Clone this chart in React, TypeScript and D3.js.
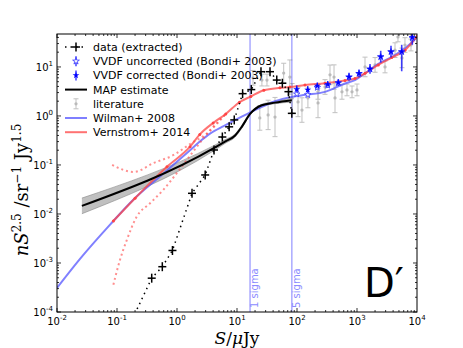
import React, { useEffect, useRef } from 'react'
import * as d3 from 'd3'

// data (extracted): flux S (uJy) and nS^2.5
const dataS = [0.165, 0.379, 0.569, 0.84, 1.78, 2.95, 4.14, 5.7, 7.4, 9.0, 12.4, 17.3, 25.1, 35.5, 46, 57, 72, 82]
const dataV = [5.7e-5, 4.9e-4, 8.4e-4, 1.8e-3, 0.0264, 0.0625, 0.202, 0.372, 0.6, 0.83, 2.85, 3.45, 8.0, 8.0, 5.4, 4.65, 3.13, 1.13]

// MAP estimate with its band
const mapS = [0.026, 4.1, 6.3, 9.3, 12, 16.5, 25.8, 43, 82]
const mapV = [0.0146, 0.22, 0.3, 0.4, 0.6, 1.1, 1.65, 1.87, 2.1]
const mapLo = [0.0101, 0.195, 0.275, 0.37, 0.56, 1.04, 1.58, 1.78, 1.92]
const mapHi = [0.0211, 0.248, 0.327, 0.43, 0.64, 1.16, 1.73, 1.97, 2.32]

// Wilman+ 2008
const wilS = [0.01, 0.024, 0.076, 0.185, 0.52, 1.65, 2.4, 3.6, 6.1, 12, 22, 43, 82, 136, 293, 631, 926, 1360, 2265, 3790, 6300, 10000]
const wilV = [3.1e-4, 1.2e-3, 0.006, 0.0193, 0.058, 0.2, 0.3, 0.44, 0.63, 0.97, 1.4, 2.0, 2.45, 2.7, 3.1, 4.6, 5.4, 7.4, 11.5, 16, 24, 40]

// Vernstrom+ 2014 and its two dotted bounds
const verS = [0.087, 0.2, 0.68, 1.65, 2.4, 4.0, 6.5, 11, 17, 28, 52, 76, 136, 293, 631, 926, 1360, 2265, 3790, 6300, 10000]
const verV = [0.0072, 0.021, 0.092, 0.236, 0.42, 0.72, 1.1, 1.9, 2.5, 3.35, 3.75, 3.9, 4.3, 4.65, 5.3, 5.8, 7.4, 11, 15.5, 22, 42]
const verUpS = [0.083, 0.19, 0.41, 0.88, 1.67, 3.16, 6.5]
const verUpV = [0.1, 0.072, 0.11, 0.16, 0.27, 0.44, 1.1]
const verLoS = [0.087, 0.112, 0.145, 0.213, 0.355, 0.59, 0.99, 1.45, 2.15, 3.5, 6.5]
const verLoV = [3.6e-4, 1.15e-3, 2.9e-3, 8.8e-3, 0.0165, 0.031, 0.068, 0.126, 0.236, 0.5, 1.1]

// VVDF (Bondi+ 2003)
const vvdfS = [99, 151, 218, 325, 488, 736, 1080, 1648, 2483, 3686, 5560, 8350]
const vvdfCor = [3.5, 3.4, 4.1, 4.4, 4.8, 6.3, 7.4, 9.1, 16.2, 20.5, 20.5, 40]
const vvdfUnc = [2.8, 2.7, 3.8, 4.2, 4.7, 6.2, 7.3, 9.0, 16, 20.3, 20.3, 39]
const vvdfErrLo = [0.08, 0.08, 0.07, 0.07, 0.07, 0.08, 0.08, 0.1, 0.12, 0.12, 0.4, 0.15]
const vvdfErrHi = [0.08, 0.08, 0.07, 0.07, 0.07, 0.08, 0.08, 0.1, 0.12, 0.12, 0.14, 0.15]

// literature compilation (dex errors)
const litS = [18.5, 26, 31.6, 43, 33, 24, 76, 83, 104, 121, 152, 224, 224, 293, 414, 430, 562, 681, 826, 1000, 1360, 2000, 2930, 4300, 5620, 6300, 7940, 4820, 355, 60]
const litV = [6.0, 5.4, 5.4, 0.95, 1.05, 0.91, 6.2, 2.3, 1.93, 1.32, 2.33, 3.1, 1.84, 3.9, 6.2, 2.33, 3.1, 3.4, 3.1, 3.4, 10, 11, 10, 22, 15.3, 28, 28, 41, 6.9, 7.5]
const litErr = [0.15, 0.12, 0.12, 0.4, 0.3, 0.25, 0.35, 0.3, 0.3, 0.25, 0.2, 0.15, 0.3, 0.15, 0.25, 0.3, 0.15, 0.12, 0.12, 0.12, 0.2, 0.15, 0.12, 0.15, 0.2, 0.15, 0.12, 0.1, 0.2, 0.2]

const sigmaS = [16.5, 82]
const sigmaLabels = ['1 sigma', '5 sigma']
const xTicks = [-2, -1, 0, 1, 2, 3, 4]
const yTicks = [-4, -3, -2, -1, 0, 1]

const legendLabels = ['data (extracted)', 'VVDF uncorrected (Bondi+ 2003)', 'VVDF corrected (Bondi+ 2003)', 'MAP estimate', 'literature', 'Wilman+ 2008', 'Vernstrom+ 2014']

const BLUE = '#5555ff'
const RED = '#ff4444'

export default function App() {
  const ref = useRef<SVGSVGElement>(null)

  useEffect(() => {
    document.body.style.margin = '0'
    const svg = d3.select(ref.current)
    svg.selectAll('*').remove()
    const left = 57, right = 417, top = 34, bottom = 312
    const x = d3.scaleLog().domain([1e-2, 1e4]).range([left, right])
    const y = d3.scaleLog().domain([1e-4, 47]).range([bottom, top])

    svg.append('defs').append('clipPath').attr('id', 'clip')
      .append('rect').attr('x', left).attr('y', top).attr('width', right - left).attr('height', bottom - top)

    const g = svg.append('g').attr('clip-path', 'url(#clip)')
    const pts = (s: number[], v: number[]) => s.map((d, i) => [d, v[i]] as [number, number])
    const line = d3.line<[number, number]>().x(d => x(d[0])).y(d => y(d[1])).curve(d3.curveMonotoneX)

    // sigma lines
    sigmaS.forEach((s, i) => {
      g.append('line').attr('x1', x(s)).attr('x2', x(s)).attr('y1', top).attr('y2', bottom)
        .style('stroke', '#aaaaff').style('stroke-width', 1.5)
      svg.append('text').attr('transform', `translate(${x(s) + 8},${bottom - 4})rotate(-90)`)
        .style('font-family', 'DejaVu Sans').style('font-size', '10px').style('fill', '#8c8cff')
        .text(sigmaLabels[i])
    })

    // literature
    const lit = g.append('g').style('opacity', 0.4)
    litS.forEach((s, i) => {
      const v = litV[i], e = litErr[i]
      const cx = x(s), y1 = y(v * Math.pow(10, e)), y2 = y(v / Math.pow(10, e))
      lit.append('line').attr('x1', cx).attr('x2', cx).attr('y1', y1).attr('y2', y2).style('stroke', '#666').style('stroke-width', 1)
      ;[y1, y2].forEach(yy => lit.append('line').attr('x1', cx - 2.5).attr('x2', cx + 2.5).attr('y1', yy).attr('y2', yy).style('stroke', '#666'))
      lit.append('circle').attr('cx', cx).attr('cy', y(v)).attr('r', 1.6).style('fill', '#555')
    })

    // MAP band
    const area = d3.area<number>().x((d, i) => x(mapS[i])).y0((d, i) => y(mapLo[i])).y1((d, i) => y(mapHi[i])).curve(d3.curveMonotoneX)
    g.append('path').datum(mapS).attr('d', area).style('fill', '#b0b0b0').style('opacity', 0.8)
    g.append('path').datum(pts(mapS, mapLo)).attr('d', line).style('fill', 'none').style('stroke', '#888').style('stroke-width', 0.6)
    g.append('path').datum(pts(mapS, mapHi)).attr('d', line).style('fill', 'none').style('stroke', '#888').style('stroke-width', 0.6)

    // model curves
    g.append('path').datum(pts(wilS, wilV)).attr('d', line)
      .style('fill', 'none').style('stroke', BLUE).style('stroke-width', 2).style('opacity', 0.75)
    g.append('path').datum(pts(verS, verV)).attr('d', line)
      .style('fill', 'none').style('stroke', RED).style('stroke-width', 2).style('opacity', 0.75)
    g.append('g').selectAll('circle').data(pts(verS, verV)).enter().append('circle')
      .attr('cx', d => x(d[0])).attr('cy', d => y(d[1])).attr('r', 1.5).style('fill', RED)
    ;[pts(verUpS, verUpV), pts(verLoS, verLoV)].forEach(d => {
      g.append('path').datum(d).attr('d', line).style('fill', 'none').style('stroke', RED)
        .style('stroke-width', 2).style('stroke-dasharray', '2,3').style('opacity', 0.6)
    })

    g.append('path').datum(pts(mapS, mapV)).attr('d', line)
      .style('fill', 'none').style('stroke', 'black').style('stroke-width', 2)

    // data extracted
    g.append('path').datum(pts(dataS, dataV)).attr('d', d3.line<[number, number]>().x(d => x(d[0])).y(d => y(d[1])))
      .style('fill', 'none').style('stroke', 'black').style('stroke-width', 1.5).style('stroke-dasharray', '1.5,4')
    const plus = (sel: any, cx: number, cy: number) => {
      sel.append('line').attr('x1', cx - 4).attr('x2', cx + 4).attr('y1', cy).attr('y2', cy).style('stroke', 'black').style('stroke-width', 1.5)
      sel.append('line').attr('x1', cx).attr('x2', cx).attr('y1', cy - 4.5).attr('y2', cy + 4.5).style('stroke', 'black').style('stroke-width', 1.5)
    }
    dataS.forEach((s, i) => { if (i > 0) plus(g, x(s), y(dataV[i])) })

    // VVDF stars
    const star = d3.symbol().type(d3.symbolStar)
    vvdfS.forEach((s, i) => {
      const cx = x(s)
      g.append('line').attr('x1', cx).attr('x2', cx)
        .attr('y1', y(vvdfCor[i] * Math.pow(10, vvdfErrHi[i]))).attr('y2', y(vvdfCor[i] / Math.pow(10, vvdfErrLo[i])))
        .style('stroke', '#1111ff').style('stroke-width', 1.6).style('opacity', 0.8)
      g.append('path').attr('d', star.size(13)()).attr('transform', `translate(${cx},${y(vvdfUnc[i])})`)
        .style('fill', 'white').style('stroke', '#3333ff').style('stroke-width', 0.8)
      g.append('path').attr('d', star.size(15)()).attr('transform', `translate(${cx},${y(vvdfCor[i])})`)
        .style('fill', '#0000ff')
    })

    // frame
    svg.append('rect').attr('x', left).attr('y', top).attr('width', right - left).attr('height', bottom - top)
      .style('fill', 'none').style('stroke', 'black').style('stroke-width', 1)

    // ticks
    const tk = svg.append('g').style('stroke', 'black').style('stroke-width', 0.8)
    for (let e = -2; e < 4; e++) {
      for (let m = 1; m < 10; m++) {
        const xv = x(m * Math.pow(10, e))
        const len = m === 1 ? 4 : 2
        tk.append('line').attr('x1', xv).attr('x2', xv).attr('y1', bottom).attr('y2', bottom - len)
        tk.append('line').attr('x1', xv).attr('x2', xv).attr('y1', top).attr('y2', top + len)
      }
    }
    for (let e = -4; e < 2; e++) {
      for (let m = 1; m < 10; m++) {
        const v = m * Math.pow(10, e)
        if (v > 47) continue
        const yv = y(v)
        const len = m === 1 ? 4 : 2
        tk.append('line').attr('x1', left).attr('x2', left + len).attr('y1', yv).attr('y2', yv)
        tk.append('line').attr('x1', right).attr('x2', right - len).attr('y1', yv).attr('y2', yv)
      }
    }

    // tick labels
    xTicks.forEach(e => {
      const t = svg.append('text').attr('x', x(Math.pow(10, e))).attr('y', bottom + 13)
        .attr('text-anchor', 'middle').style('font-family', 'DejaVu Sans').style('font-size', '10px')
      t.append('tspan').text('10')
      t.append('tspan').attr('dy', -5).style('font-size', '7px').text(e < 0 ? '-' + Math.abs(e) : String(e))
    })
    yTicks.forEach(e => {
      const t = svg.append('text').attr('x', left - 4).attr('y', y(Math.pow(10, e)) + 4)
        .attr('text-anchor', 'end').style('font-family', 'DejaVu Sans').style('font-size', '10px')
      t.append('tspan').text('10')
      t.append('tspan').attr('dy', -5).style('font-size', '7px').text(e < 0 ? '-' + Math.abs(e) : String(e))
    })

    // axis labels
    const yl = svg.append('text').attr('transform', 'translate(28,190)rotate(-90)').attr('text-anchor', 'middle')
      .style('font-family', 'DejaVu Serif').style('font-size', '18px')
    yl.append('tspan').style('font-style', 'italic').text('nS')
    yl.append('tspan').attr('dy', -7).style('font-size', '12px').text('2.5')
    yl.append('tspan').attr('dy', 7).text(' /sr')
    yl.append('tspan').attr('dy', -7).style('font-size', '12px').text('\u22121')
    yl.append('tspan').attr('dy', 7).text(' Jy')
    yl.append('tspan').attr('dy', -7).style('font-size', '12px').text('1.5')

    const xl = svg.append('text').attr('x', 237).attr('y', 344).attr('text-anchor', 'middle')
      .style('font-family', 'DejaVu Serif').style('font-size', '17px')
    xl.append('tspan').style('font-style', 'italic').text('S')
    xl.append('tspan').text('/')
    xl.append('tspan').style('font-style', 'italic').text('\u03bc')
    xl.append('tspan').text('Jy')

    svg.append('text').attr('x', 364).attr('y', 297).style('font-family', 'DejaVu Sans').style('font-size', '40px').text('D\u2032')

    // legend
    const lg = svg.append('g').style('font-family', 'DejaVu Sans').style('font-size', '11px')
    legendLabels.forEach((lab, i) => {
      const ly = 47 + i * 14.2
      lg.append('text').attr('x', 93).attr('y', ly + 4).text(lab)
      const hx = 76
      if (i === 0) {
        lg.append('line').attr('x1', 65).attr('x2', 87).attr('y1', ly).attr('y2', ly)
          .style('stroke', 'black').style('stroke-width', 1.5).style('stroke-dasharray', '1.5,4')
        plus(lg, hx, ly)
      } else if (i === 1 || i === 2) {
        lg.append('line').attr('x1', hx).attr('x2', hx).attr('y1', ly - 5).attr('y2', ly + 5).style('stroke', '#1111ff').style('stroke-width', 1.2)
        lg.append('path').attr('d', star.size(14)()).attr('transform', `translate(${hx},${ly})`)
          .style('fill', i === 1 ? 'white' : '#0000ff').style('stroke', i === 1 ? '#3333ff' : 'none').style('stroke-width', 0.8)
      } else if (i === 3) {
        lg.append('line').attr('x1', 65).attr('x2', 87).attr('y1', ly).attr('y2', ly).style('stroke', 'black').style('stroke-width', 2)
      } else if (i === 4) {
        const lq = lg.append('g').style('opacity', 0.4)
        lq.append('line').attr('x1', hx).attr('x2', hx).attr('y1', ly - 5).attr('y2', ly + 5).style('stroke', '#666')
        lq.append('line').attr('x1', hx - 2.5).attr('x2', hx + 2.5).attr('y1', ly - 5).attr('y2', ly - 5).style('stroke', '#666')
        lq.append('line').attr('x1', hx - 2.5).attr('x2', hx + 2.5).attr('y1', ly + 5).attr('y2', ly + 5).style('stroke', '#666')
        lq.append('circle').attr('cx', hx).attr('cy', ly).attr('r', 1.6).style('fill', '#555')
      } else {
        lg.append('line').attr('x1', 65).attr('x2', 87).attr('y1', ly).attr('y2', ly)
          .style('stroke', i === 5 ? BLUE : RED).style('stroke-width', 2).style('opacity', 0.75)
      }
    })
  }, [])

  return (
    <div style={{ position: 'absolute', left: 0, top: 0 }}>
      <svg ref={ref} width={463} height={348} style={{ display: 'block', background: 'white' }}></svg>
    </div>
  )
}
